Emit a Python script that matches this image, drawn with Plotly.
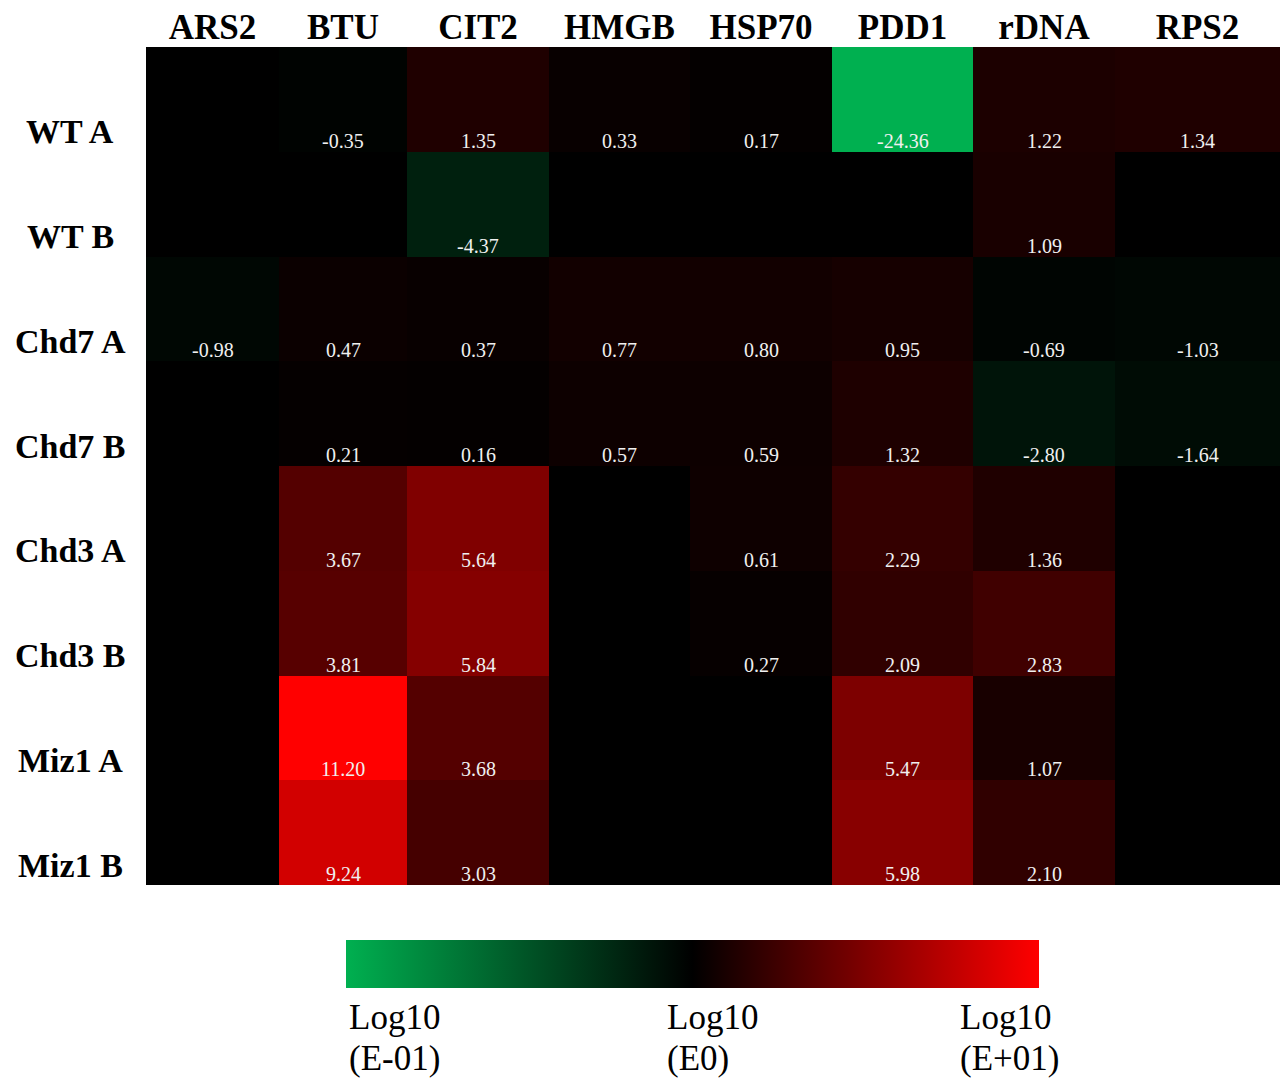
import plotly.graph_objects as go

# ---------------- data ----------------
genes = ["ARS2", "BTU", "CIT2", "HMGB", "HSP70", "PDD1", "rDNA", "RPS2"]
samples = ["WT A", "WT B", "Chd7 A", "Chd7 B", "Chd3 A", "Chd3 B", "Miz1 A", "Miz1 B"]

wt_a   = [None, -0.35, 1.35, 0.33, 0.17, -24.36, 1.22, 1.34]
wt_b   = [None, None, -4.37, None, None, None, 1.09, None]
chd7_a = [-0.98, 0.47, 0.37, 0.77, 0.80, 0.95, -0.69, -1.03]
chd7_b = [None, 0.21, 0.16, 0.57, 0.59, 1.32, -2.80, -1.64]
chd3_a = [None, 3.67, 5.64, None, 0.61, 2.29, 1.36, None]
chd3_b = [None, 3.81, 5.84, None, 0.27, 2.09, 2.83, None]
miz1_a = [None, 11.20, 3.68, None, None, 5.47, 1.07, None]
miz1_b = [None, 9.24, 3.03, None, None, 5.98, 2.10, None]

legend_top = ["Log10", "Log10", "Log10"]
legend_bottom = ["(E-01)", "(E0)", "(E+01)"]

# ---------------- style / layout ----------------
COL_WIDTHS = [133, 128, 142, 141, 142, 141, 142, 165]
GREEN, BLACK, RED = "#00B050", "#000000", "#FF0000"
SERIF = "Liberation Serif"
W, H = 1280, 1080
ML, MR, MT = 146, 0, 47
MB = H - 885

rows = [wt_a, wt_b, chd7_a, chd7_b, chd3_a, chd3_b, miz1_a, miz1_b]

edges = [0]
for w in COL_WIDTHS:
    edges.append(edges[-1] + w)
centers = [(edges[i] + edges[i + 1]) / 2 for i in range(len(COL_WIDTHS))]

vals = [v for r in rows for v in r if v is not None]
zmin, zmax = min(vals), max(vals)
mid = (0 - zmin) / (zmax - zmin)

def px_x(px):   # screen px -> paper x
    return (px - ML) / (W - ML - MR)

def px_y(py):   # screen py -> paper y
    return (H - MB - py) / (H - MT - MB)

fig = go.Figure()

fig.add_trace(go.Heatmap(
    z=rows,
    x=edges,
    y=list(range(len(samples))),
    zmin=zmin, zmax=zmax,
    colorscale=[[0, GREEN], [mid, BLACK], [1, RED]],
    showscale=False,
    hoverongaps=False,
    xgap=0, ygap=0,
))

# dummy trace carrying the symmetric legend colour bar
fig.add_trace(go.Scatter(
    x=[None], y=[None], mode="markers",
    marker=dict(color=[0], coloraxis="coloraxis2"),
    showlegend=False, hoverinfo="skip",
))

annotations = []
for i, r in enumerate(rows):
    for j, v in enumerate(r):
        if v is None:
            continue
        annotations.append(dict(
            x=centers[j], y=i + 0.5, xref="x", yref="y",
            text=f"{v:.2f}", showarrow=False,
            xanchor="center", yanchor="bottom", yshift=-2,
            font=dict(family=SERIF, size=20, color="#f0f0f0"),
        ))

for i, s in enumerate(samples):
    annotations.append(dict(
        x=px_x(70), y=i + 0.5, xref="paper", yref="y",
        text=s, showarrow=False, xanchor="center", yanchor="middle", yshift=20,
        font=dict(family=SERIF, size=34, color="black", weight="bold"),
    ))

label_px = [347, 665, 958]
for t1, t2, px in zip(legend_top, legend_bottom, label_px):
    annotations.append(dict(
        x=px_x(px), y=px_y(1018), xref="paper", yref="paper",
        text=t1, showarrow=False, xanchor="left", yanchor="middle", align="left",
        font=dict(family=SERIF, size=35, color="black"),
    ))
    annotations.append(dict(
        x=px_x(px), y=px_y(1058), xref="paper", yref="paper",
        text=t2, showarrow=False, xanchor="left", yanchor="middle", align="left",
        font=dict(family=SERIF, size=35, color="black"),
    ))

fig.update_layout(
    width=W, height=H,
    margin=dict(l=ML, r=MR, t=MT, b=MB),
    paper_bgcolor="white",
    plot_bgcolor="black",
    xaxis=dict(
        range=[edges[0], edges[-1]], side="top",
        tickmode="array", tickvals=centers, ticktext=genes,
        showgrid=False, zeroline=False, ticks="", showline=False,
        tickfont=dict(family=SERIF, size=35, color="black", weight="bold"),
        fixedrange=True,
    ),
    yaxis=dict(
        range=[len(samples) - 0.5, -0.5],
        showticklabels=False, showgrid=False, zeroline=False, ticks="",
        fixedrange=True,
    ),
    coloraxis2=dict(
        cmin=-1, cmax=1,
        colorscale=[[0, GREEN], [0.5, BLACK], [1, RED]],
        showscale=True,
        colorbar=dict(
            orientation="h",
            xref="container", x=(347 + 44) / W, xanchor="left",
            yref="container", y=1 - 940 / H, yanchor="top",
            len=693, lenmode="pixels",
            thickness=48, thicknessmode="pixels",
            xpad=0, ypad=0, outlinewidth=0,
            showticklabels=False, ticks="",
        ),
    ),
    annotations=annotations,
    showlegend=False,
)

fig.write_html(
    "out.html",
    config={"displayModeBar": False},
    post_script=(
        "document.body.style.margin='0';"
        "document.body.style.overflow='hidden';"
        "document.documentElement.style.overflow='hidden';"
    ),
)
